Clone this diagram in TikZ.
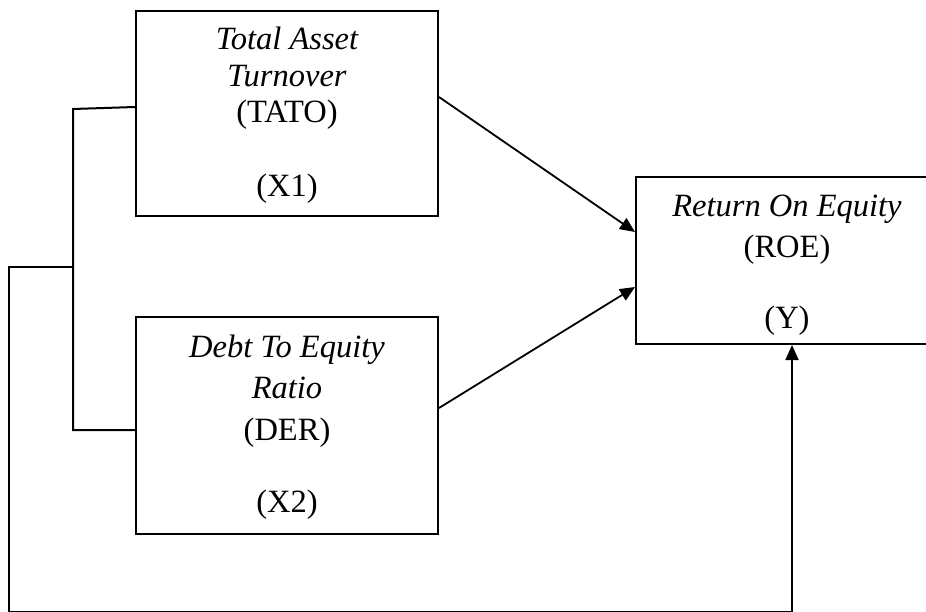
\documentclass[tikz,border=0pt]{standalone}
\usepackage{fontspec}
\setmainfont{Liberation Serif}
\usetikzlibrary{arrows.meta}
\begin{document}
\begin{tikzpicture}[x=1pt,y=-1pt,line width=2pt,
  box/.style={draw,line width=2pt,inner sep=0pt},
  lbl/.style={anchor=base,inner sep=0pt,font=\fontsize{32.5}{38}\selectfont},
  arr/.style={-{Triangle[length=15pt,width=13pt]},line width=1.8pt}]
\useasboundingbox (0,0) rectangle (926,612);
\clip (0,0) rectangle (926,612);
% boxes
\node[box,minimum width=302pt,minimum height=205pt] (tato) at (287,113.5) {};
\node[box,minimum width=302pt,minimum height=217pt] (der) at (287,425.5) {};
\node[box,minimum width=302pt,minimum height=167pt] (roe) at (787,260.5) {};
% labels
\node[lbl] (t1) at (287,50) {\itshape Total Asset};
\node[lbl] (t2) at (287,87) {\itshape Turnover};
\node[lbl] (t3) at (287,123) {(TATO)};
\node[lbl] (t4) at (287,197) {(X1)};
\node[lbl] (d1) at (287,357) {\itshape Debt To Equity};
\node[lbl] (d2) at (287,398) {\itshape Ratio};
\node[lbl] (d3) at (287,440) {(DER)};
\node[lbl] (d4) at (287,512) {(X2)};
\node[lbl] (r1) at (787,217) {\itshape Return On Equity};
\node[lbl] (r2) at (787,258) {(ROE)};
\node[lbl] (r3) at (787,328) {(Y)};
% connectors
\draw[arr] ([yshift=16.5pt]tato.east) -- ([yshift=28.5pt]roe.west);
\draw[arr] ([yshift=17.5pt]der.east) -- ([yshift=-26.5pt]roe.west);
\coordinate (b1) at (73,109);
\coordinate (b2) at (73,430);
\coordinate (bm) at (73,267);
\coordinate (c1) at (9,267);
\coordinate (c2) at (9,612.3);
\coordinate (c3) at (792,612.3);
\draw ([yshift=6.5pt]tato.west) -- (b1) -- (b2) -- ([yshift=-4.5pt]der.west);
\draw (bm) -- (c1) -- (c2) -- (c3);
\draw[arr] (c3) -- (c3 |- roe.south);
\end{tikzpicture}
\end{document}
